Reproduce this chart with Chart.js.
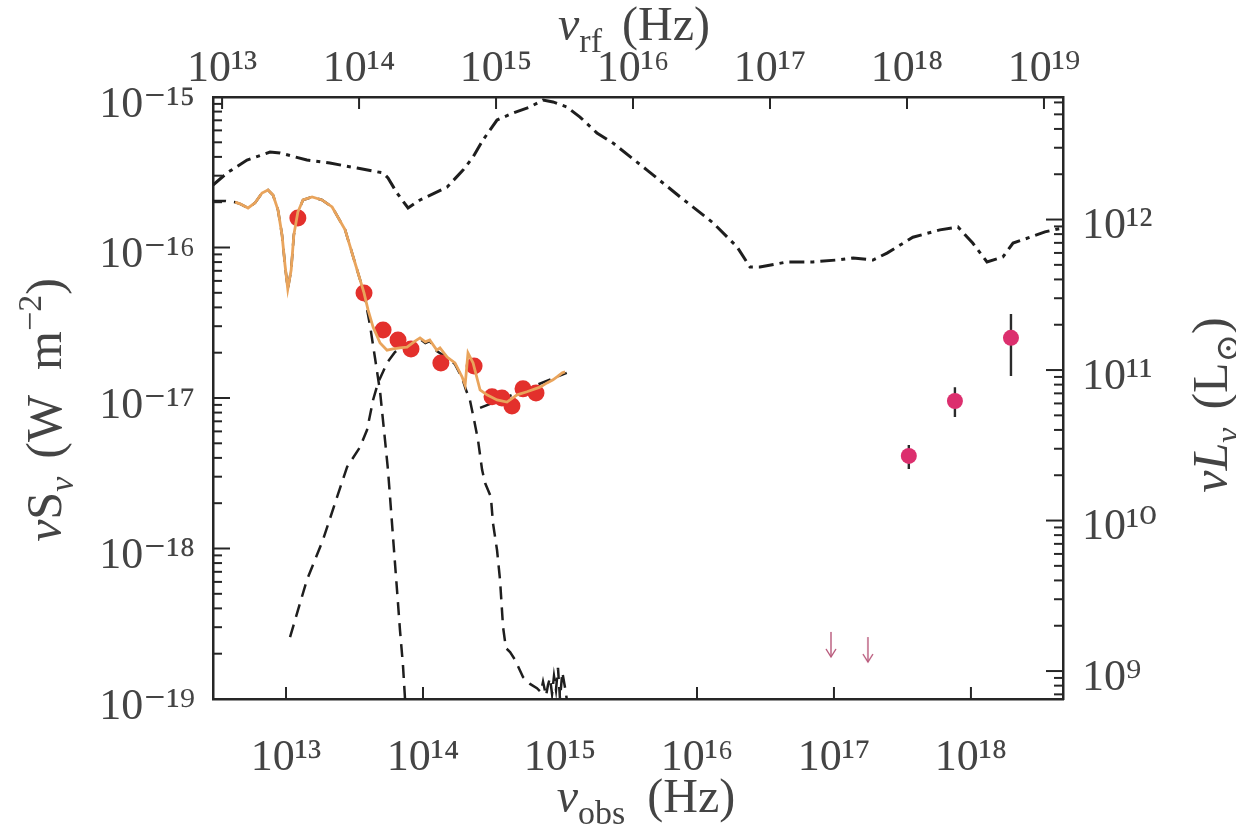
<!DOCTYPE html>
<html>
<head>
<meta charset="utf-8">
<script src="https://cdn.jsdelivr.net/npm/chart.js@4.4.0/dist/chart.umd.min.js"></script>
<style>
html,body{margin:0;padding:0;background:#ffffff;}
#wrap{width:1236px;height:828px;}
</style>
</head>
<body>
<div id="wrap"><canvas id="c" width="1236" height="828"></canvas></div>
<script>
// ---------------- DATA ----------------
// observed-frame frequency range (Hz) and flux range (W m^-2)
const nuObsMin = 2.93e12, nuObsMax = 4.70e18;
const fluxMin = 1e-19, fluxMax = 1e-15;
const onePlusZ = 2.93;            // nu_rf = nu_obs * (1+z)
const lumPerFlux = 6.52e27;       // nuL_nu (L_sun) per nuS_nu (W m^-2)

// photometric points (red)
const photNu   = [1.22e13, 3.71e13, 5.11e13, 6.57e13, 8.17e13, 1.35e14, 2.36e14, 3.19e14, 3.77e14, 4.46e14, 5.37e14, 6.68e14];
const photFlux = [1.57e-16, 4.99e-17, 2.83e-17, 2.43e-17, 2.12e-17, 1.71e-17, 1.63e-17, 1.02e-17, 1.00e-17, 8.85e-18, 1.15e-17, 1.08e-17];

// X-ray points (magenta) with error bars
const xrayNu     = [3.52e17, 7.64e17, 1.96e18];
const xrayFlux   = [4.12e-18, 9.55e-18, 2.51e-17];
const xrayFluxLo = [3.37e-18, 7.48e-18, 1.40e-17];
const xrayFluxHi = [4.88e-18, 1.18e-17, 3.61e-17];

// X-ray upper limits (arrows)
const limitNu   = [9.51e16, 1.77e17];
const limitFlux = [2.79e-19, 2.58e-19];

// total model (orange)
const totalNu = [4.25e12, 4.62e12, 5.28e12, 5.94e12, 6.68e12, 7.39e12, 8.04e12, 8.74e12, 9.35e12, 9.83e12,
  1.03e13, 1.09e13, 1.14e13, 1.22e13, 1.33e13, 1.55e13, 1.83e13, 2.17e13, 2.70e13, 3.19e13,
  3.71e13, 3.97e13, 4.32e13, 4.86e13, 5.46e13, 6.04e13, 6.79e13, 7.64e13, 8.75e13, 9.51e13,
  1.04e14, 1.12e14, 1.26e14, 1.33e14, 1.50e14, 1.71e14, 1.93e14, 2.03e14, 2.13e14, 2.32e14,
  2.61e14, 2.93e14, 3.47e14, 4.10e14, 4.86e14, 5.74e14, 7.14e14, 8.04e14, 8.89e14, 9.51e14,
  1.04e15, 1.09e15];
const totalFlux = [2.00e-16, 1.95e-16, 1.83e-16, 1.98e-16, 2.30e-16, 2.41e-16, 2.23e-16, 1.77e-16, 1.21e-16, 7.65e-17,
  5.30e-17, 7.08e-17, 1.21e-16, 1.72e-16, 2.07e-16, 2.17e-16, 2.07e-16, 1.86e-16, 1.31e-16, 7.89e-17,
  4.99e-17, 3.85e-17, 2.96e-17, 2.32e-17, 2.08e-17, 2.12e-17, 2.15e-17, 2.18e-17, 2.39e-17, 2.51e-17,
  2.36e-17, 2.43e-17, 2.08e-17, 2.15e-17, 1.87e-17, 1.71e-17, 1.38e-17, 1.22e-17, 1.99e-17, 1.71e-17,
  1.13e-17, 1.05e-17, 9.70e-18, 9.40e-18, 1.05e-17, 1.10e-17, 1.18e-17, 1.26e-17, 1.32e-17, 1.38e-17,
  1.47e-17, 1.49e-17];

// starburst component (dashed)
const starburstNu = [2.93e12, 3.59e12, 4.25e12, 4.62e12, 5.28e12, 5.94e12, 6.68e12, 7.39e12, 8.04e12, 8.74e12,
  9.35e12, 9.83e12, 1.03e13, 1.09e13, 1.14e13, 1.22e13, 1.33e13, 1.55e13, 1.83e13, 2.17e13,
  2.70e13, 3.19e13, 3.71e13, 4.10e13, 4.46e13, 4.86e13, 5.19e13, 5.55e13, 5.84e13, 6.14e13,
  6.46e13, 6.79e13, 7.14e13, 7.39e13];
const starburstFlux = [2.04e-16, 2.04e-16, 2.00e-16, 1.95e-16, 1.83e-16, 1.98e-16, 2.30e-16, 2.41e-16, 2.23e-16, 1.77e-16,
  1.21e-16, 7.65e-17, 5.30e-17, 7.08e-17, 1.21e-16, 1.72e-16, 2.07e-16, 2.17e-16, 2.07e-16, 1.86e-16,
  1.31e-16, 7.89e-17, 4.99e-17, 3.05e-17, 1.85e-17, 1.10e-17, 6.12e-18, 3.33e-18, 1.80e-18, 9.77e-19,
  5.30e-19, 2.87e-19, 1.68e-19, 1.00e-19];

// hot dust / host component (dashed)
const hotNu = [1.07e13, 1.42e13, 1.86e13, 2.36e13, 2.79e13, 3.47e13, 3.90e13, 4.32e13, 4.69e13, 5.46e13,
  6.25e13, 6.79e13, 7.64e13, 8.75e13, 9.51e13, 1.04e14, 1.12e14, 1.26e14, 1.50e14, 1.71e14,
  1.93e14, 2.06e14, 2.20e14, 2.36e14, 2.52e14, 2.70e14, 2.84e14, 3.13e14, 3.24e14, 3.47e14,
  3.65e14, 3.84e14, 4.03e14, 4.32e14, 4.70e14, 5.37e14, 6.04e14, 6.79e14, 7.26e14, 7.52e14,
  7.91e14, 8.17e14, 8.45e14, 8.75e14, 9.04e14, 9.35e14, 9.67e14, 1.00e15, 1.04e15, 1.09e15,
  1.12e15];
const hotFlux = [2.58e-19, 6.18e-19, 1.14e-18, 2.20e-18, 3.48e-18, 4.72e-18, 6.12e-18, 9.70e-18, 1.26e-17, 1.71e-17,
  2.02e-17, 2.12e-17, 2.15e-17, 2.36e-17, 2.47e-17, 2.32e-17, 2.39e-17, 2.05e-17, 1.85e-17, 1.68e-17,
  1.36e-17, 1.13e-17, 9.70e-18, 7.14e-18, 5.26e-18, 3.33e-18, 2.72e-18, 2.20e-18, 1.48e-18, 9.77e-19,
  6.18e-19, 3.01e-19, 2.18e-19, 2.05e-19, 1.82e-19, 1.40e-19, 1.26e-19, 1.18e-19, 1.11e-19, 1.30e-19,
  1.05e-19, 1.24e-19, 1.38e-19, 1.08e-19, 1.42e-19, 1.15e-19, 1.61e-19, 1.00e-19, 1.51e-19, 1.18e-19,
  1.00e-19];

// power-law component (dashed)
const powerNu   = [2.61e14, 1.12e15];
const powerFlux = [8.59e-18, 1.47e-17];

// QSO template (dash-dot)
const qsoNu = [2.93e12, 3.71e12, 5.19e12, 7.64e12, 9.04e12, 1.42e13, 2.09e13, 3.30e13, 5.11e13, 5.55e13,
  6.46e13, 7.78e13, 9.51e13, 1.50e14, 1.96e14, 2.32e14, 2.74e14, 3.47e14, 4.54e14, 6.04e14,
  7.52e14, 8.89e14, 1.12e15, 1.40e15, 1.86e15, 2.44e15, 4.32e15, 7.52e15, 1.31e16, 1.96e16,
  2.44e16, 2.88e16, 4.54e16, 7.03e16, 1.05e17, 1.38e17, 1.93e17, 2.44e17, 3.77e17, 5.94e17,
  8.04e17, 1.03e18, 1.31e18, 1.71e18, 2.03e18, 2.70e18, 3.47e18, 4.70e18];
const qsoFlux = [2.60e-16, 3.13e-16, 3.81e-16, 4.31e-16, 4.25e-16, 3.81e-16, 3.64e-16, 3.37e-16, 3.13e-16, 2.90e-16,
  2.30e-16, 1.83e-16, 2.07e-16, 2.52e-16, 3.27e-16, 3.99e-16, 5.18e-16, 7.03e-16, 7.83e-16, 8.59e-16,
  9.55e-16, 9.27e-16, 8.59e-16, 7.36e-16, 5.77e-16, 4.94e-16, 3.27e-16, 2.17e-16, 1.46e-16, 1.01e-16,
  7.41e-17, 7.41e-17, 8.02e-17, 8.02e-17, 8.26e-17, 8.51e-17, 8.26e-17, 9.18e-17, 1.17e-16, 1.31e-16,
  1.37e-16, 1.07e-16, 8.02e-17, 8.65e-17, 1.07e-16, 1.17e-16, 1.27e-16, 1.35e-16];

// ---------------- helpers ----------------
const SUP = {'0':'⁰','1':'¹','2':'²','3':'³','4':'⁴','5':'⁵','6':'⁶','7':'⁷','8':'⁸','9':'⁹','-':'⁻'};
function isPow10(v){ const l = Math.log10(v); return Math.abs(l - Math.round(l)) < 1e-6; }
function powLabel(v){ const e = Math.round(Math.log10(v)); return '10' + String(e).split('').map(c => SUP[c]).join(''); }
function logTicks(min, max, withMinor){
  const out = [];
  for (let e = Math.floor(Math.log10(min)) - 1; e <= Math.ceil(Math.log10(max)); e++) {
    for (let k = 1; k <= (withMinor ? 9 : 1); k++) {
      const v = k * Math.pow(10, e);
      if (v >= min * (1 - 1e-9) && v <= max * (1 + 1e-9)) out.push({value: v});
    }
  }
  return out;
}
const pts = (xs, ys) => xs.map((x, i) => ({x: x, y: ys[i]}));
const errPts = [];
xrayNu.forEach((x, i) => { errPts.push({x: x, y: xrayFluxLo[i]}, {x: x, y: xrayFluxHi[i]}, {x: x, y: null}); });

// arrow marker for upper limits
function arrowCanvas(){
  const len = 26, w = 14;
  const c = document.createElement('canvas');
  c.width = w; c.height = 2 * len + 2;
  const g = c.getContext('2d');
  g.strokeStyle = '#b8587a'; g.lineWidth = 1.4;
  g.beginPath(); g.moveTo(w/2, len + 1); g.lineTo(w/2, 2*len); g.stroke();
  g.beginPath(); g.moveTo(w/2 - 5, 2*len - 8); g.lineTo(w/2, 2*len); g.lineTo(w/2 + 5, 2*len - 8); g.stroke();
  return c;
}

const TEXT = '#444444';
const FRAME = '#262626';
const SERIF = "'Liberation Serif', 'DejaVu Serif', serif";

// inward tick marks
const inwardTicks = {
  id: 'inwardTicks',
  afterDatasetsDraw(chart){
    const ctx = chart.ctx, a = chart.chartArea;
    ctx.save();
    ctx.strokeStyle = FRAME; ctx.lineWidth = 2;
    const defs = {x: ['b', 12, 12], x2: ['t', 12, 12], y: ['l', 17, 9], y2: ['r', 17, 9]};
    Object.keys(defs).forEach(id => {
      const s = chart.scales[id]; const [side, maj, min] = defs[id];
      s.ticks.forEach(t => {
        const p = s.getPixelForValue(t.value);
        const L = isPow10(t.value) ? maj : min;
        ctx.beginPath();
        if (side === 'b') { ctx.moveTo(p, a.bottom); ctx.lineTo(p, a.bottom - L); }
        if (side === 't') { ctx.moveTo(p, a.top); ctx.lineTo(p, a.top + L); }
        if (side === 'l') { ctx.moveTo(a.left, p); ctx.lineTo(a.left + L, p); }
        if (side === 'r') { ctx.moveTo(a.right, p); ctx.lineTo(a.right - L, p); }
        ctx.stroke();
      });
    });
    ctx.restore();
  }
};

// axis titles with sub/superscripts
function drawRich(ctx, segs, size, small){
  let total = 0;
  const items = segs.map(s => {
    const fs = (s.sub || s.sup) ? small : size;
    const font = (s.italic ? 'italic ' : '') + fs + 'px ' + SERIF;
    ctx.font = font;
    const w = ctx.measureText(s.t).width + (s.gap || 0);
    total += w;
    return {s: s, font: font, w: w, dy: s.sub ? size * 0.24 : (s.sup ? -size * 0.40 : 0)};
  });
  let x = -total / 2;
  items.forEach(it => { ctx.font = it.font; ctx.fillText(it.s.t, x, it.dy); x += it.w; });
}
const axisTitles = {
  id: 'axisTitles',
  afterDraw(chart){
    const ctx = chart.ctx;
    ctx.save();
    ctx.fillStyle = TEXT; ctx.textBaseline = 'alphabetic'; ctx.textAlign = 'left';
    // bottom
    ctx.save(); ctx.translate(646, 812);
    drawRich(ctx, [{t:'ν', italic:true}, {t:'obs', sub:true, gap:22}, {t:'(Hz)'}], 48, 34); ctx.restore();
    // top
    ctx.save(); ctx.translate(634, 40);
    drawRich(ctx, [{t:'ν', italic:true}, {t:'rf', sub:true, gap:20}, {t:'(Hz)'}], 48, 34); ctx.restore();
    // left
    ctx.save(); ctx.translate(61, 410); ctx.rotate(-Math.PI / 2);
    drawRich(ctx, [{t:'ν', italic:true}, {t:'S'}, {t:'ν', italic:true, sub:true, gap:18}, {t:'(W  m'}, {t:'−2', sup:true}, {t:')'}], 50, 34); ctx.restore();
    // right
    ctx.save(); ctx.translate(1227, 405); ctx.rotate(-Math.PI / 2);
    drawRich(ctx, [{t:'ν', italic:true}, {t:'L', italic:true}, {t:'ν', italic:true, sub:true, gap:18}, {t:'(L'}, {t:'⊙', sub:true}, {t:')'}], 50, 34); ctx.restore();
    ctx.restore();
  }
};

const tickFont = {family: SERIF, size: 44};
const baseGrid = {display: true, drawOnChartArea: false, drawTicks: false};
const border = {display: true, color: FRAME, width: 2.5};
function powerCallback(v){ return isPow10(v) ? powLabel(v) : ''; }

new Chart(document.getElementById('c').getContext('2d'), {
  type: 'scatter',
  data: {
    datasets: [
      {label: 'total', data: pts(totalNu, totalFlux), showLine: true, borderColor: '#e9a45c', borderWidth: 2.8, pointRadius: 0, tension: 0, order: 0},
      {label: 'photometry', data: pts(photNu, photFlux), showLine: false, pointRadius: 8.5, pointBackgroundColor: '#e3302c', pointBorderWidth: 0, order: 1},
      {label: 'X-ray', data: pts(xrayNu, xrayFlux), showLine: false, pointRadius: 8, pointBackgroundColor: '#dc2f6e', pointBorderWidth: 0, order: 1},
      {label: 'X-ray errors', data: errPts, showLine: true, spanGaps: false, borderColor: '#2b2b2b', borderWidth: 2.4, pointRadius: 0, order: 2},
      {label: 'upper limits', data: pts(limitNu, limitFlux), showLine: false, pointStyle: arrowCanvas(), pointRadius: 10, order: 2},
      {label: 'starburst', data: pts(starburstNu, starburstFlux), showLine: true, borderColor: '#1e1e1e', borderWidth: 2.5, borderDash: [13, 8], pointRadius: 0, tension: 0, order: 3},
      {label: 'hot dust', data: pts(hotNu, hotFlux), showLine: true, borderColor: '#1e1e1e', borderWidth: 2.5, borderDash: [13, 8], pointRadius: 0, tension: 0, order: 3},
      {label: 'power law', data: pts(powerNu, powerFlux), showLine: true, borderColor: '#1e1e1e', borderWidth: 2.5, borderDash: [13, 8], pointRadius: 0, tension: 0, order: 3},
      {label: 'QSO template', data: pts(qsoNu, qsoFlux), showLine: true, borderColor: '#1e1e1e', borderWidth: 3, borderDash: [15, 6, 4, 6], pointRadius: 0, tension: 0, order: 4}
    ]
  },
  options: {
    responsive: false, animation: false, devicePixelRatio: 1,
    layout: {padding: 0},
    plugins: {legend: {display: false}, tooltip: {enabled: false}},
    scales: {
      x: {type: 'logarithmic', position: 'bottom', min: nuObsMin, max: nuObsMax,
          grid: baseGrid, border: border,
          ticks: {autoSkip: false, maxRotation: 0, padding: 33, font: tickFont, color: TEXT, callback: powerCallback},
          afterBuildTicks: s => { s.ticks = logTicks(nuObsMin, nuObsMax, false); },
          afterFit: s => { s.height = 129; }},
      x2: {type: 'logarithmic', position: 'top', axis: 'x', min: nuObsMin * onePlusZ, max: nuObsMax * onePlusZ,
          grid: baseGrid, border: border,
          ticks: {autoSkip: false, maxRotation: 0, padding: 1, font: tickFont, color: TEXT, callback: powerCallback},
          afterBuildTicks: s => { s.ticks = logTicks(nuObsMin * onePlusZ, nuObsMax * onePlusZ, false); },
          afterFit: s => { s.height = 97; }},
      y: {type: 'logarithmic', position: 'left', min: fluxMin, max: fluxMax,
          grid: baseGrid, border: border,
          ticks: {autoSkip: false, padding: 18, font: tickFont, color: TEXT, labelOffset: 8, callback: powerCallback},
          afterBuildTicks: s => { s.ticks = logTicks(fluxMin, fluxMax, true); },
          afterFit: s => { s.width = 213; }},
      y2: {type: 'logarithmic', position: 'right', axis: 'y', min: fluxMin * lumPerFlux, max: fluxMax * lumPerFlux,
          grid: baseGrid, border: border,
          ticks: {autoSkip: false, padding: 19, font: tickFont, color: TEXT, labelOffset: 7, callback: powerCallback},
          afterBuildTicks: s => { s.ticks = logTicks(fluxMin * lumPerFlux, fluxMax * lumPerFlux, true); },
          afterFit: s => { s.width = 173; }}
    }
  },
  plugins: [inwardTicks, axisTitles]
});
</script>
</body>
</html>
